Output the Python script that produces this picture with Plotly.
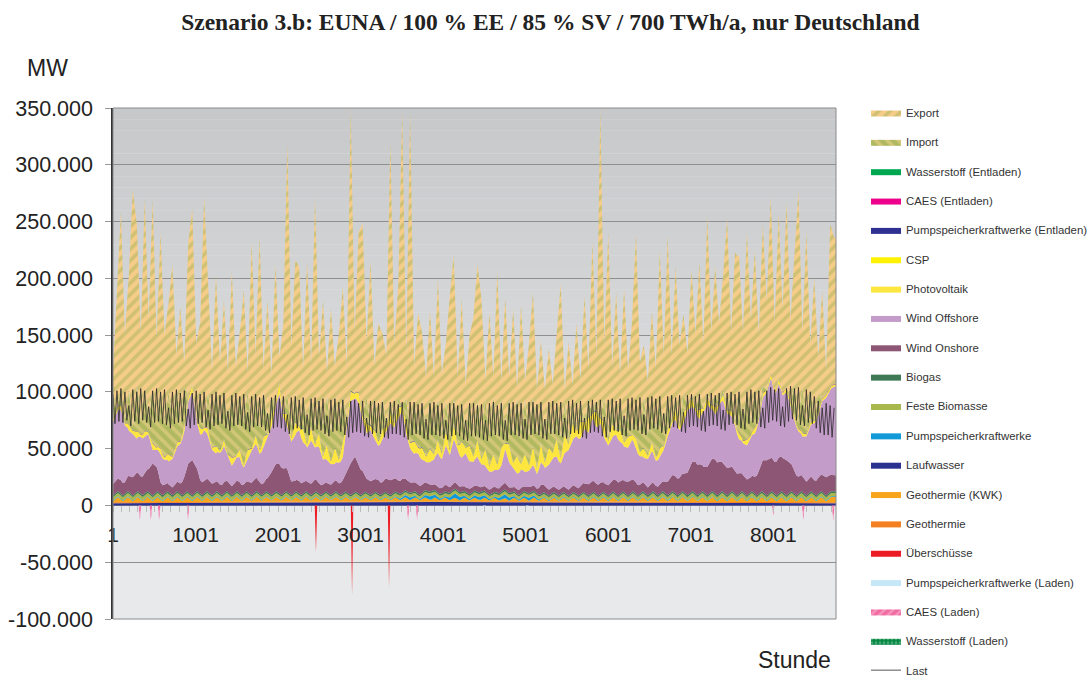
import numpy as np
import plotly.graph_objects as go

# ---------------- data (values in 1000 MW) ----------------
STEP = 48
hours = np.arange(1, 8761, STEP)          # 183 sample hours
last_h = np.arange(1, 8761, 24)           # 365 sample hours
month_h = [1, 745, 1417, 2161, 2881, 3625, 4345, 5089, 5833, 6553, 7297, 8017, 8760]
kwk_h = np.arange(1, 8761, 60)             # 146 sample hours

wind_onshore = [
    10, 11, 12, 10, 14, 16, 17, 15, 18, 20,
    28, 22, 10, 8, 7, 7, 8, 9, 15, 25,
    31, 22, 12, 11, 11, 10, 9, 8, 10, 9,
    8, 9, 10, 8, 9, 11, 12, 10, 9, 12,
    20, 24, 26, 22, 20, 12, 10, 11, 10, 9,
    10, 11, 9, 8, 8, 9, 10, 9, 12, 18,
    28, 31, 25, 20, 12, 12, 11, 12, 10, 12,
    13, 12, 11, 12, 10, 9, 8, 8, 7, 7,
    6, 5, 5, 5, 6, 5, 6, 5, 5, 4,
    5, 4, 5, 4, 4, 4, 5, 4, 5, 6,
    5, 4, 4, 5, 4, 5, 5, 4, 8, 6,
    5, 5, 5, 5, 5, 5, 6, 6, 7, 8,
    10, 10, 9, 10, 8, 9, 10, 12, 11, 10,
    12, 11, 10, 8, 8, 7, 8, 7, 8, 9,
    12, 14, 15, 14, 16, 20, 25, 28, 26, 22,
    25, 28, 30, 28, 25, 24, 22, 20, 18, 15,
    14, 13, 15, 20, 28, 31, 30, 28, 32, 30,
    31, 25, 20, 15, 14, 12, 13, 12, 14, 15,
    16, 15, 14]

wind_offshore = [
    55, 60, 62, 50, 40, 38, 30, 35, 32, 30,
    12, 15, 25, 22, 20, 25, 30, 35, 40, 55,
    60, 40, 40, 45, 38, 30, 25, 28, 32, 22,
    18, 20, 22, 15, 20, 28, 30, 25, 32, 35,
    40, 50, 62, 45, 38, 35, 40, 45, 35, 30,
    38, 28, 32, 22, 20, 18, 15, 18, 20, 40,
    55, 52, 55, 45, 40, 45, 35, 30, 38, 42,
    50, 45, 55, 60, 40, 30, 25, 28, 22, 18,
    20, 22, 30, 25, 35, 28, 38, 30, 25, 30,
    24, 22, 26, 20, 18, 16, 14, 16, 18, 30,
    22, 16, 14, 16, 13, 15, 18, 13, 20, 16,
    22, 25, 28, 22, 30, 35, 40, 45, 42, 48,
    45, 55, 50, 52, 40, 35, 38, 40, 35, 30,
    30, 35, 30, 25, 22, 25, 28, 22, 25, 28,
    40, 45, 50, 42, 45, 55, 50, 45, 40, 48,
    55, 45, 40, 50, 55, 48, 45, 40, 30, 28,
    30, 35, 38, 45, 55, 60, 70, 60, 65, 55,
    60, 50, 45, 40, 35, 40, 45, 50, 55, 65,
    70, 75, 78]

photovoltaik = [
    3, 2, 4, 2, 5, 3, 6, 2, 5, 2,
    6, 2, 5, 2, 6, 2, 4, 2, 5, 3,
    6, 2, 6, 2, 6, 2, 6, 2, 6, 2,
    7, 2, 7, 2, 8, 2, 8, 3, 9, 3,
    9, 3, 10, 3, 10, 3, 11, 3, 12, 3,
    12, 3, 13, 3, 14, 3, 14, 3, 15, 4,
    8, 4, 9, 4, 9, 4, 9, 4, 9, 4,
    10, 4, 10, 5, 10, 5, 11, 5, 11, 5,
    12, 5, 12, 5, 13, 5, 13, 5, 14, 5,
    14, 5, 15, 5, 15, 5, 15, 5, 16, 5,
    16, 5, 16, 5, 16, 5, 17, 5, 17, 5,
    16, 5, 16, 5, 16, 5, 15, 5, 15, 5,
    14, 5, 14, 5, 13, 4, 12, 4, 11, 4,
    10, 4, 9, 4, 8, 3, 8, 3, 7, 3,
    6, 3, 10, 3, 9, 3, 8, 3, 8, 3,
    7, 3, 6, 3, 6, 3, 5, 3, 5, 2,
    5, 2, 5, 2, 4, 2, 4, 2, 4, 2,
    4, 2, 3, 2, 3, 2, 3, 2, 3, 2,
    3, 2, 2]

importe = [
    20, 0, 13, 3, 30, 3, 40, 12, 35, 14,
    46, 24, 49, 29, 54, 34, 48, 16, 33, 0,
    0, 0, 30, 2, 31, 21, 49, 24, 39, 26,
    55, 30, 46, 39, 50, 19, 36, 20, 39, 12,
    16, 0, 0, 0, 16, 11, 25, 0, 26, 18,
    25, 16, 28, 27, 42, 26, 44, 29, 38, 0,
    0, 0, 0, 0, 22, 0, 26, 10, 26, 0,
    9, 0, 7, 0, 20, 12, 35, 13, 41, 22,
    42, 23, 34, 17, 25, 16, 23, 11, 34, 14,
    37, 19, 35, 24, 44, 27, 50, 26, 43, 13,
    38, 27, 50, 28, 47, 26, 42, 31, 34, 24,
    38, 17, 30, 18, 29, 6, 17, 0, 17, 0,
    12, 0, 9, 0, 21, 5, 20, 0, 24, 10,
    30, 3, 31, 18, 45, 17, 37, 24, 44, 14,
    27, 0, 8, 0, 16, 0, 2, 0, 13, 0,
    2, 0, 10, 0, 3, 0, 15, 0, 38, 18,
    43, 11, 32, 0, 6, 0, 0, 0, 0, 0,
    0, 0, 27, 7, 40, 8, 29, 0, 16, 0,
    0, 0, 0]

export = [
    22, 107, 157, 75, 101, 209, 143, 76, 170, 84,
    169, 72, 141, 79, 78, 135, 30, 102, 22, 136,
    155, 66, 62, 201, 96, 47, 102, 53, 83, 46,
    109, 49, 55, 115, 18, 163, 34, 168, 21, 106,
    20, 123, 22, 80, 223, 69, 117, 140, 27, 143,
    30, 202, 38, 110, 21, 108, 27, 81, 97, 48,
    250, 53, 141, 169, 48, 145, 30, 94, 58, 62,
    230, 69, 100, 258, 40, 280, 31, 105, 60, 48,
    79, 45, 107, 53, 51, 119, 126, 49, 92, 42,
    60, 103, 119, 116, 16, 108, 18, 144, 15, 115,
    21, 109, 9, 112, 17, 81, 93, 39, 56, 40,
    48, 43, 61, 135, 10, 84, 17, 94, 19, 112,
    30, 151, 39, 273, 48, 179, 30, 121, 24, 125,
    28, 97, 149, 60, 46, 48, 78, 54, 130, 66,
    144, 58, 117, 71, 70, 47, 110, 64, 116, 57,
    157, 64, 114, 69, 101, 168, 53, 149, 118, 77,
    140, 89, 124, 73, 142, 77, 156, 60, 146, 73,
    163, 73, 115, 203, 48, 170, 40, 126, 32, 95,
    21, 143, 129]

last = [
    98, 72, 101, 74, 103, 73, 100, 75, 88, 70,
    102, 74, 100, 72, 103, 75, 101, 73, 87, 69,
    101, 73, 103, 74, 100, 72, 102, 71, 86, 68,
    100, 72, 102, 73, 99, 74, 101, 70, 85, 68,
    99, 71, 101, 72, 98, 73, 100, 69, 84, 67,
    98, 70, 100, 71, 97, 72, 99, 68, 83, 66,
    97, 70, 99, 71, 96, 70, 98, 67, 82, 65,
    96, 69, 98, 70, 95, 69, 97, 66, 81, 64,
    95, 68, 97, 69, 94, 68, 96, 65, 80, 63,
    95, 67, 96, 68, 93, 67, 95, 64, 80, 62,
    94, 66, 95, 67, 92, 66, 94, 63, 79, 61,
    93, 65, 94, 66, 91, 65, 93, 62, 78, 60,
    92, 64, 93, 65, 90, 64, 92, 61, 77, 60,
    92, 63, 92, 64, 90, 63, 91, 60, 77, 59,
    91, 63, 92, 63, 89, 62, 91, 60, 76, 58,
    91, 62, 91, 63, 89, 62, 90, 59, 76, 58,
    90, 62, 91, 62, 88, 61, 90, 59, 75, 58,
    90, 61, 90, 62, 88, 61, 89, 58, 75, 57,
    90, 61, 90, 61, 88, 60, 89, 58, 75, 57,
    90, 61, 91, 62, 88, 61, 90, 58, 75, 57,
    90, 62, 91, 62, 89, 61, 90, 59, 76, 58,
    91, 62, 91, 63, 89, 62, 91, 59, 76, 58,
    91, 63, 92, 63, 90, 62, 91, 60, 77, 59,
    92, 63, 93, 64, 90, 63, 92, 60, 77, 59,
    92, 64, 93, 65, 91, 64, 93, 61, 78, 60,
    93, 65, 94, 66, 92, 65, 94, 62, 79, 61,
    94, 66, 95, 67, 93, 66, 95, 63, 80, 62,
    95, 67, 96, 68, 94, 67, 96, 64, 81, 63,
    96, 68, 97, 69, 95, 68, 97, 65, 82, 64,
    97, 69, 98, 70, 96, 69, 98, 66, 83, 65,
    98, 70, 99, 71, 97, 70, 99, 67, 84, 66,
    99, 71, 100, 72, 98, 71, 100, 68, 85, 67,
    100, 72, 102, 73, 100, 72, 101, 69, 86, 68,
    101, 73, 104, 75, 102, 74, 103, 70, 87, 69,
    103, 74, 105, 76, 103, 75, 104, 71, 88, 70,
    102, 73, 100, 72, 96, 68, 92, 64, 86, 62,
    90, 62, 88, 60, 86]

geothermie_kwk = [
    0.8, 4.5, 0.8, 4.6, 0.8, 4.5, 0.9, 4.6, 0.8, 4.5,
    0.8, 4.4, 0.8, 4.5, 0.8, 4.4, 0.8, 4.5, 0.8, 4.4,
    0.8, 4.3, 0.8, 4.4, 0.7, 4.3, 0.7, 4.2, 0.7, 4.3,
    0.7, 4.1, 0.7, 4.0, 0.7, 4.1, 0.6, 3.9, 0.6, 4.0,
    0.6, 3.8, 0.6, 3.7, 0.6, 3.8, 0.6, 3.6, 0.5, 3.5,
    0.5, 3.4, 0.5, 3.3, 0.5, 3.2, 0.5, 3.3, 0.5, 3.1,
    0.5, 3.0, 0.5, 3.0, 0.5, 2.9, 0.5, 3.0, 0.5, 2.9,
    0.5, 2.9, 0.5, 3.0, 0.5, 2.9, 0.5, 3.0, 0.5, 3.0,
    0.5, 3.1, 0.5, 3.2, 0.5, 3.3, 0.5, 3.4, 0.5, 3.5,
    0.6, 3.6, 0.6, 3.7, 0.6, 3.8, 0.6, 3.9, 0.6, 4.0,
    0.7, 4.1, 0.7, 4.2, 0.7, 4.3, 0.7, 4.3, 0.8, 4.4,
    0.8, 4.4, 0.8, 4.5, 0.8, 4.5, 0.8, 4.6, 0.8, 4.5,
    0.8, 4.6, 0.8, 4.5, 0.8, 4.6, 0.8, 4.5, 0.8, 4.6,
    0.8, 4.5, 0.8, 4.6, 0.8, 4.5, 0.8, 4.6, 0.8, 4.5,
    0.8, 4.5, 0.8, 4.6, 0.8, 4.5]

laufwasser = [2.0, 2.1, 2.4, 2.8, 3.1, 3.2, 3.0, 2.7, 2.4, 2.2, 2.1, 2.0, 2.0]
geothermie = [0.9, 0.9, 0.9, 0.9, 0.9, 0.9, 0.9, 0.9, 0.9, 0.9, 0.9, 0.9, 0.9]
feste_biomasse = [2.9, 2.9, 2.8, 2.7, 2.6, 2.6, 2.6, 2.6, 2.7, 2.8, 2.9, 2.9, 2.9]
biogas = [1.6, 1.6, 1.6, 1.5, 1.5, 1.5, 1.5, 1.5, 1.5, 1.6, 1.6, 1.6, 1.6]
csp = [0, 0, 0, 0, 0, 0, 0, 0, 0, 0, 0, 0, 0]
ps_entladen = [0.2, 0.2, 0.3, 0.4, 0.5, 0.5, 0.4, 0.3, 0.3, 0.2, 0.2, 0.2, 0.2]
caes_entladen = [0.2, 0.2, 0.1, 0.1, 0.0, 0.0, 0.0, 0.0, 0.1, 0.1, 0.2, 0.2, 0.2]
h2_entladen = [0.1, 0.1, 0.1, 0.0, 0.0, 0.0, 0.0, 0.0, 0.0, 0.1, 0.1, 0.1, 0.1]

ps_h = [1, 3400, 3600, 3700, 3850, 4000, 4150, 4300, 4450, 4600, 4750, 4900, 5050, 5200, 5400, 8760]
pumpspeicher = [0.6, 0.6, 2.5, 0.6, 3.5, 0.8, 4.0, 1.0, 3.0, 0.7, 3.5, 0.8, 2.5, 0.6, 0.6, 0.6]

ueb_h = [1, 2445, 2460, 2475, 2882, 2897, 2912, 3330, 3345, 3360, 8760]
ueberschuesse = [0, 0, -41, 0, 0, -79, 0, 0, -72, 0, 0]
caes_l_h = [1, 312, 327, 342, 445, 460, 475, 545, 560, 575, 895, 910, 925,
            3561, 3576, 3591, 3670, 3685, 3700, 7985, 8000, 8015,
            8349, 8364, 8379, 8712, 8727, 8742, 8760]
caes_laden = [0, 0, -13, 0, 0, -13, 0, 0, -13, 0, 0, -13, 0,
              0, -13, 0, 0, -13, 0, 0, -9, 0,
              0, -13, 0, 0, -14, 0, 0]
psl_h = [1, 4480, 4500, 4520, 5000, 5020, 5040, 8760]
ps_laden = [0, 0, -1.5, 0, 0, -1.2, 0, 0]
h2l_h = [1, 8760]
h2_laden = [0, 0]

y_tickvals = [-100000, -50000, 0, 50000, 100000, 150000, 200000, 250000, 300000, 350000]
y_ticktext = ["-100.000", "-50.000", "0", "50.000", "100.000", "150.000",
              "200.000", "250.000", "300.000", "350.000"]
x_tickvals = [1, 1001, 2001, 3001, 4001, 5001, 6001, 7001, 8001]
x_ticktext = ["1", "1001", "2001", "3001", "4001", "5001", "6001", "7001", "8001"]

# ---------------- figure ----------------
K = 1000.0
fig = go.Figure()
FONT = "Liberation Sans, Arial, sans-serif"


def area(x, vals, name, color, rank, group, pattern=None, first=False):
    kw = dict(x=list(x), y=np.array(vals, dtype=float) * K, name=name, mode="lines",
              line=dict(width=0, color=color), fillcolor=color, stackgroup=group,
              legendrank=rank, legendgroup=name, hoverinfo="skip")
    if pattern is not None:
        kw["fillpattern"] = pattern
    if first:
        kw["stackgaps"] = "interpolate"
    fig.add_trace(go.Scatter(**kw))


# positive stack, bottom to top
area(month_h, laufwasser, "Laufwasser", "#2b3190", 13, "pos", first=True)
area(month_h, geothermie, "Geothermie", "#f47f21", 15, "pos")
area(kwk_h, geothermie_kwk, "Geothermie (KWK)", "#f9a51b", 14, "pos")
area(ps_h, pumpspeicher, "Pumpspeicherkraftwerke", "#1199d8", 12, "pos")
area(month_h, feste_biomasse, "Feste Biomasse", "#a9b84c", 11, "pos")
area(month_h, biogas, "Biogas", "#3f7a57", 10, "pos")
area(hours, wind_onshore, "Wind Onshore", "#8d5674", 9, "pos")
area(hours, wind_offshore, "Wind Offshore", "#c49cc9", 8, "pos")
area(hours, photovoltaik, "Photovoltaik", "#fde640", 7, "pos")
area(month_h, csp, "CSP", "#fff200", 6, "pos")
area(month_h, ps_entladen, "Pumpspeicherkraftwerke (Entladen)", "#2e3192", 5, "pos")
area(month_h, caes_entladen, "CAES (Entladen)", "#ec008c", 4, "pos")
area(month_h, h2_entladen, "Wasserstoff (Entladen)", "#00a650", 3, "pos")
area(hours, importe, "Import", "#b0b860", 2, "pos",
     pattern=dict(shape="\\", bgcolor="#b0b860", fgcolor="#f3d68e", size=8, solidity=0.45))
area(hours, export, "Export", "#f5cd89", 1, "pos",
     pattern=dict(shape="/", bgcolor="#f5cd89", fgcolor="#a9b35c", size=8, solidity=0.45))

# negative stack
area(ueb_h, ueberschuesse, "Überschüsse", "#ed1c24", 16, "neg")
area(psl_h, ps_laden, "Pumpspeicherkraftwerke (Laden)", "#c6e7f7", 17, "neg")
area(caes_l_h, caes_laden, "CAES (Laden)", "#f06ca3", 18, "neg",
     pattern=dict(shape="/", bgcolor="#f06ca3", fgcolor="#fbc3d9", size=6, solidity=0.4))
area(h2l_h, h2_laden, "Wasserstoff (Laden)", "#00843f", 19, "neg",
     pattern=dict(shape=".", bgcolor="#00843f", fgcolor="#8fd1a8", size=4, solidity=0.4))

fig.add_trace(go.Scatter(x=last_h, y=np.array(last, dtype=float) * K, name="Last",
                         mode="lines", line=dict(color="#2a2a2a", width=0.8),
                         legendrank=20, legendgroup="Last", hoverinfo="skip"))

# background: gradient above zero (style only)
shapes = []
nb = 35
top_c = np.array([199, 200, 202])
bot_c = np.array([226, 227, 229])
for k in range(nb):
    y0 = 350000 * k / nb
    y1 = 350000 * (k + 1) / nb
    t = (k + 0.5) / nb
    c = (bot_c + (top_c - bot_c) * t).round().astype(int)
    shapes.append(dict(type="rect", xref="x", yref="y", x0=1, x1=8760, y0=y0, y1=y1,
                       fillcolor=f"rgb({c[0]},{c[1]},{c[2]})", line=dict(width=0),
                       layer="below"))
shapes.append(dict(type="rect", xref="paper", yref="paper", x0=0, x1=1, y0=0, y1=1,
                   line=dict(color="#8a8a8a", width=1), fillcolor="rgba(0,0,0,0)",
                   layer="above"))

fig.update_layout(
    width=1092, height=679,
    margin=dict(l=113, r=256, t=108, b=60, autoexpand=False),
    paper_bgcolor="white",
    plot_bgcolor="#e8e9eb",
    font=dict(family=FONT, color="#222"),
    title=dict(text="<b>Szenario 3.b: EUNA / 100 % EE / 85 % SV / 700 TWh/a, nur Deutschland</b>",
               font=dict(family="Liberation Serif, Times New Roman, serif", size=23.5, color="#222"),
               x=0.504, xref="container", xanchor="center",
               y=1 - 22 / 679, yref="container", yanchor="middle"),
    showlegend=True,
    legend=dict(xref="container", yref="container", x=866 / 1092, y=1 - 98 / 679,
                xanchor="left", yanchor="top", maxheight=700,
                font=dict(family=FONT, size=11.4, color="#333"),
                traceorder="grouped", tracegroupgap=10.35, itemwidth=30,
                bgcolor="rgba(0,0,0,0)"),
    shapes=shapes,
    annotations=[
        dict(text="MW", xref="paper", yref="paper", x=(47 - 113) / 723, y=(619 - 68) / 511,
             showarrow=False, font=dict(family=FONT, size=23, color="#222"),
             xanchor="center", yanchor="middle"),
        dict(text="Stunde", xref="paper", yref="paper", x=(794 - 113) / 723, y=(619 - 660) / 511,
             showarrow=False, font=dict(family=FONT, size=23, color="#222"),
             xanchor="center", yanchor="middle"),
    ],
)

fig.update_yaxes(range=[-100000, 350000], tickmode="array", tickvals=y_tickvals,
                 ticktext=y_ticktext, showgrid=True, gridcolor="#8f8f8f", gridwidth=1,
                 zeroline=False, ticks="outside", ticklen=6, tickcolor="#999",
                 showline=True, linecolor="#333", linewidth=1.5, automargin=False,
                 ticklabelstandoff=8,
                 tickfont=dict(family=FONT, size=21.5, color="#222"))
fig.update_xaxes(range=[1, 8760], anchor="free", position=100 / 450,
                 tickmode="array", tickvals=x_tickvals, ticktext=x_ticktext,
                 showgrid=False, zeroline=False, showline=False, automargin=False,
                 ticks="outside", ticklen=6, tickcolor="#bbb",
                 minor=dict(tick0=1, dtick=100, ticks="outside", ticklen=6, tickcolor="#bbb",
                            showgrid=False),
                 ticklabelstandoff=4,
                 tickfont=dict(family=FONT, size=21, color="#222"))

fig.write_html("out.html", config={"displayModeBar": False},
               post_script="document.body.style.margin='0px';document.body.style.overflow='hidden';")
